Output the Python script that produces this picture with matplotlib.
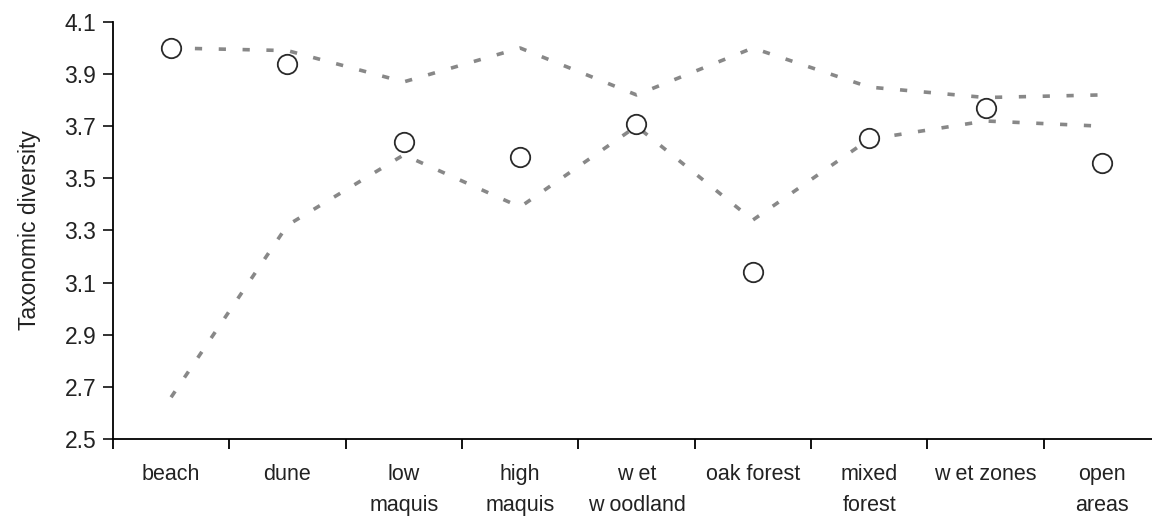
import matplotlib.pyplot as plt
import numpy as np

# habitat categories
habitats = ['beach', 'dune', 'low\nmaquis', 'high\nmaquis', 'w et\nw oodland',
            'oak forest', 'mixed\nforest', 'w et zones', 'open\nareas']

# observed taxonomic diversity (circles)
observed = [4.00, 3.94, 3.64, 3.58, 3.71, 3.14, 3.655, 3.77, 3.56]
# expected upper and lower limits (dashed lines)
upper = [4.00, 3.99, 3.87, 4.00, 3.82, 4.00, 3.85, 3.81, 3.82]
lower = [2.66, 3.32, 3.59, 3.39, 3.70, 3.34, 3.65, 3.72, 3.70]

yticks = [2.5, 2.7, 2.9, 3.1, 3.3, 3.5, 3.7, 3.9, 4.1]

plt.rcParams['font.family'] = ['Liberation Sans', 'DejaVu Sans']

fig = plt.figure(figsize=(11.52, 5.22), dpi=100)
ax = fig.add_axes([0.098, 0.159, 0.909, 0.799])

x = np.arange(len(habitats))
line_col = '#888888'
ax.plot(x, upper, color=line_col, lw=2.6, dashes=(2.0, 4.6))
ax.plot(x, lower, color=line_col, lw=2.6, dashes=(2.0, 4.6))
ax.plot(x, observed, 'o', ms=14, mfc='white', mec='#2a2a2a', mew=1.3, zorder=3)

ax.set_xlim(-0.5, len(habitats) - 0.5)
ax.set_ylim(2.5, 4.1)
ax.set_yticks(yticks)
ax.set_yticklabels([f'{v:.1f}' for v in yticks])

ax.set_xticks(x)
ax.set_xticklabels(habitats, linespacing=1.6)
ax.set_xticks(np.arange(len(habitats) + 1) - 0.5, minor=True)
ax.tick_params(axis='x', which='major', length=0, pad=18, labelsize=15.5, colors='#222222')
ax.tick_params(axis='x', which='minor', length=7, width=1.3, direction='out')
ax.tick_params(axis='y', length=7, width=1.3, direction='out', labelsize=16.5, pad=5, colors='#222222')

ax.spines['top'].set_visible(False)
ax.spines['right'].set_visible(False)
ax.spines['left'].set_linewidth(1.3)
ax.spines['bottom'].set_linewidth(1.3)

ax.set_ylabel('Taxonomic diversity', fontsize=16.5, color='#222222', labelpad=17)

fig.savefig('out.png', dpi=100)
